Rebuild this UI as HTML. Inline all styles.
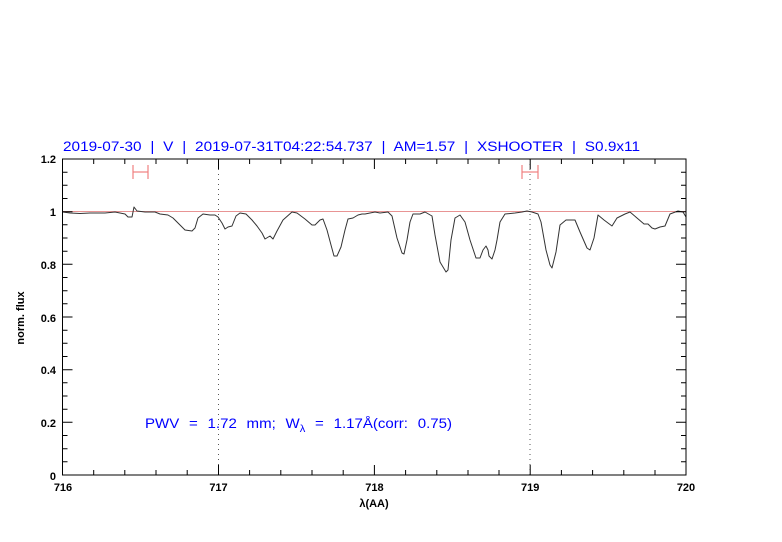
<!DOCTYPE html>
<html><head><meta charset="utf-8"><style>
html,body{margin:0;padding:0;background:#fff;}
svg{display:block;}
text{font-family:"Liberation Sans",sans-serif;}
</style></head><body>
<svg width="782" height="542" xmlns="http://www.w3.org/2000/svg">
<rect width="782" height="542" fill="#fff"/>
<text x="63" y="151" fill="#0000ff" font-size="13.5" word-spacing="4" textLength="577" lengthAdjust="spacingAndGlyphs">2019-07-30 | V | 2019-07-31T04:22:54.737 | AM=1.57 | XSHOOTER | S0.9x11</text>
<line x1="218.5" y1="159" x2="218.5" y2="475" stroke="#555" stroke-width="1" stroke-dasharray="1,4"/>
<line x1="530" y1="159" x2="530" y2="475" stroke="#555" stroke-width="1" stroke-dasharray="1,4"/>
<line x1="63" y1="211.5" x2="686" y2="211.5" stroke="#e07070" stroke-width="0.8"/>
<g stroke="#f08080" stroke-width="1.2">
<line x1="133" y1="172" x2="148" y2="172"/><line x1="133" y1="165" x2="133" y2="179"/><line x1="148" y1="165" x2="148" y2="179"/>
<line x1="522" y1="172" x2="538" y2="172"/><line x1="522" y1="165" x2="522" y2="179"/><line x1="538" y1="165" x2="538" y2="179"/>
</g>
<polyline fill="none" stroke="#333" stroke-width="1" stroke-linejoin="round" points="63,212 70,213 80,213.5 90,213 105,213 115,212 125,214 128,217 132,217 134,207 137,211 145,212 155,212 160,214 168,215 173,218 180,225 185,230 192,231 195,228 198,218 203,214 210,215 215,215 218,217 222,223 225,229 228,227 232,226 236,216 240,213 246,214 252,220 257,226 262,233 265,239 270,236 273,239 277,231 283,220 292,212 297,213 305,219 312,225 315,225 320,220 323,219 327,230 331,245 334,256 337,256 341,247 345,230 348,219 353,218 358,215 362,214 365,214 375,212 380,213 388,212 392,216 397,238 402,253 404,254 407,240 410,222 413,214 420,214 425,212 432,216 435,235 440,262 446,272 448,270 451,240 455,218 460,215 465,222 470,240 476,258 480,258 483,250 486,246 488,250 489,256 492,259 495,250 497,240 500,222 505,214 515,213 522,212 527,211 532,212 538,214 541,222 546,250 550,265 552,268 556,252 560,225 566,220 575,220 580,232 587,248 590,250 594,238 598,215 604,220 612,226 617,218 625,214 630,212 637,218 644,224 648,224 652,228 655,229 660,227 665,226 670,214 678,211 683,212 686,217"/>
<rect x="62.5" y="159" width="623.5" height="316" fill="none" stroke="#000" stroke-width="1"/>
<g stroke="#000" stroke-width="1">
<path d="M93.7,475v-5M124.8,475v-5M156,475v-5M187.2,475v-5M218.5,475v-10M249.6,475v-5M280.8,475v-5M312,475v-5M343.2,475v-5M374.4,475v-10M405.6,475v-5M436.8,475v-5M468,475v-5M499,475v-5M530.2,475v-10M561.4,475v-5M592.6,475v-5M623.8,475v-5M655,475v-5
M93.7,159v5M124.8,159v5M156,159v5M187.2,159v5M218.5,159v10M249.6,159v5M280.8,159v5M312,159v5M343.2,159v5M374.4,159v10M405.6,159v5M436.8,159v5M468,159v5M499,159v5M530.2,159v10M561.4,159v5M592.6,159v5M623.8,159v5M655,159v5"/>
<path d="M62.5,461.8h5M62.5,448.7h5M62.5,435.5h5M62.5,422.3h10M62.5,409.2h5M62.5,396h5M62.5,382.8h5M62.5,369.7h10M62.5,356.5h5M62.5,343.3h5M62.5,330.2h5M62.5,317h10M62.5,303.8h5M62.5,290.7h5M62.5,277.5h5M62.5,264.3h10M62.5,251.2h5M62.5,238h5M62.5,224.8h5M62.5,211.7h10M62.5,198.5h5M62.5,185.3h5M62.5,172.2h5
M686,461.8h-5M686,448.7h-5M686,435.5h-5M686,422.3h-10M686,409.2h-5M686,396h-5M686,382.8h-5M686,369.7h-10M686,356.5h-5M686,343.3h-5M686,330.2h-5M686,317h-10M686,303.8h-5M686,290.7h-5M686,277.5h-5M686,264.3h-10M686,251.2h-5M686,238h-5M686,224.8h-5M686,211.7h-10M686,198.5h-5M686,185.3h-5M686,172.2h-5"/>
</g>
<g font-size="11" fill="#000" font-weight="bold">
<text x="56" y="480" text-anchor="end">0</text>
<text x="56" y="427" text-anchor="end">0.2</text>
<text x="56" y="374" text-anchor="end">0.4</text>
<text x="56" y="322" text-anchor="end">0.6</text>
<text x="56" y="269" text-anchor="end">0.8</text>
<text x="56" y="216" text-anchor="end">1</text>
<text x="56" y="163" text-anchor="end">1.2</text>
<text x="63" y="491" text-anchor="middle">716</text>
<text x="218.5" y="491" text-anchor="middle">717</text>
<text x="374.4" y="491" text-anchor="middle">718</text>
<text x="530.2" y="491" text-anchor="middle">719</text>
<text x="686" y="491" text-anchor="middle">720</text>
<text x="374" y="507" text-anchor="middle">λ(AA)</text>
<text transform="translate(24,318) rotate(-90)" text-anchor="middle">norm. flux</text>
</g>
<text x="145" y="428" fill="#0000ff" font-size="13.5" word-spacing="5" textLength="307" lengthAdjust="spacingAndGlyphs">PWV = 1.72 mm; W<tspan font-size="10" dy="4">λ</tspan><tspan dy="-4"> = 1.17Å(corr: 0.75)</tspan></text>
</svg>
</body></html>
